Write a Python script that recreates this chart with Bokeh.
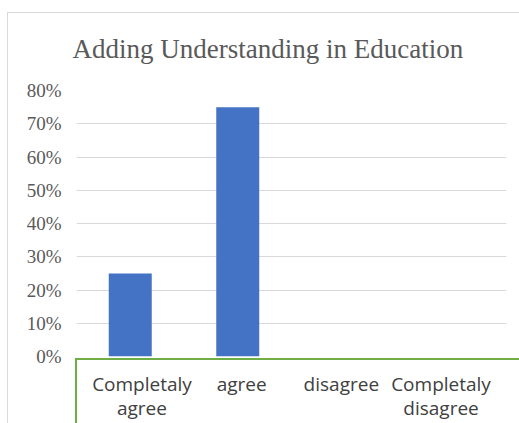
from bokeh.plotting import figure
from bokeh.models import (FactorRange, Range1d, CategoricalAxis, FixedTicker,
                          NumeralTickFormatter, ColumnDataSource, InlineStyleSheet)
from bokeh.embed import file_html
from bokeh.resources import INLINE

title_text = "Adding Understanding in Education"
categories = ["Completaly agree", "agree", "disagree", "Completaly disagree"]
tick_labels = ["Completaly\nagree", "agree", "disagree", "Completaly\ndisagree"]
values = [0.25, 0.75, 0.0, 0.0]
y_ticks = [0.0, 0.1, 0.2, 0.3, 0.4, 0.5, 0.6, 0.7, 0.8]

source = ColumnDataSource(data=dict(cat=categories, val=values))

p = figure(width=519, height=423,
           x_range=FactorRange(factors=categories, range_padding=0),
           y_range=Range1d(0, 0.8),
           output_backend="svg", toolbar_location=None,
           min_border_left=76, min_border_right=13,
           min_border_top=90, min_border_bottom=67)
p.outline_line_color = None
p.background_fill_color = "white"
p.border_fill_color = "white"

p.title.text = title_text
p.title.text_font = "Liberation Serif"
p.title.text_font_size = "27px"
p.title.text_font_style = "normal"
p.title.text_color = "#595959"
p.title.align = "left"
p.title.offset = -4
p.title.standoff = 53

p.vbar(x="cat", top="val", width=0.4, source=source,
       fill_color="#4472C4", line_color=None)

# y axis
p.yaxis.ticker = FixedTicker(ticks=y_ticks)
p.yaxis.formatter = NumeralTickFormatter(format="0%")
p.yaxis.axis_line_color = None
p.yaxis.major_tick_line_color = None
p.yaxis.minor_tick_line_color = None
p.yaxis.major_label_standoff = 9
p.yaxis.major_label_text_font = "Liberation Serif"
p.yaxis.major_label_text_font_size = "19px"
p.yaxis.major_label_text_color = "#595959"

p.ygrid.ticker = FixedTicker(ticks=y_ticks)
p.ygrid.grid_line_color = "#d9d9d9"
p.xgrid.grid_line_color = None

# hide default x axis, add label axis
p.xaxis.visible = False
p.extra_x_ranges = {"labels": FactorRange(factors=tick_labels, range_padding=0.157,
                                          range_padding_units="absolute")}
lab_axis = CategoricalAxis(x_range_name="labels")
lab_axis.axis_line_color = None
lab_axis.major_tick_line_color = None
lab_axis.minor_tick_line_color = None
lab_axis.major_label_standoff = 8
lab_axis.major_label_text_font = "Open Sans"
lab_axis.major_label_text_font_size = "19px"
lab_axis.major_label_text_color = "#404040"
lab_axis.major_label_text_line_height = 0.93
p.add_layout(lab_axis, "below")

# chart border (grey) and selected category-axis box (green)
p.stylesheets = [InlineStyleSheet(css="""
:host { position: relative; overflow: hidden; }
:host::before {
  content: ""; position: absolute; left: 7px; top: 12px; width: 700px; height: 700px;
  border-top: 1px solid #d9d9d9; border-left: 1px solid #d9d9d9;
  pointer-events: none; z-index: 10;
}
:host::after {
  content: ""; position: absolute; left: 75px; top: 358px; width: 700px; height: 700px;
  border-top: 2px solid #70ad47; border-left: 2px solid #70ad47;
  pointer-events: none; z-index: 10;
}
""")]

open("out.html", "w").write(file_html(p, INLINE))
